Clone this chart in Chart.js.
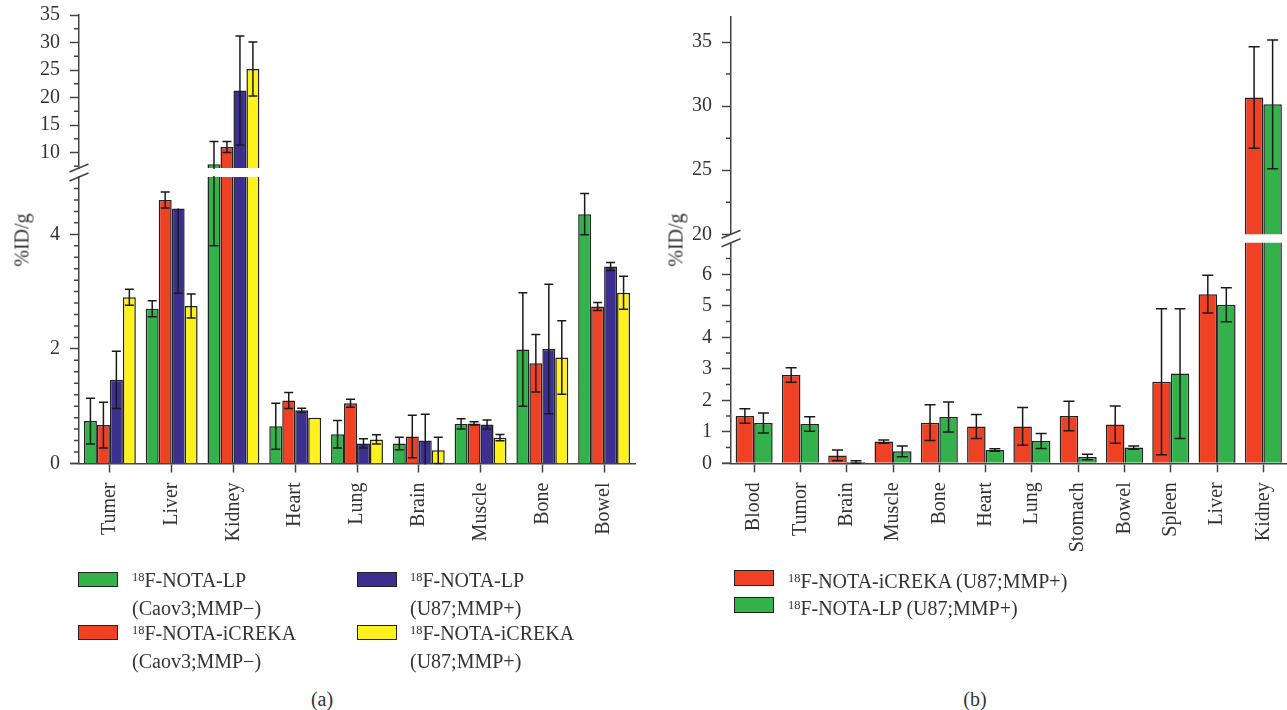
<!DOCTYPE html>
<html>
<head>
<meta charset="utf-8">
<title>Biodistribution %ID/g</title>
<script src="https://cdn.jsdelivr.net/npm/chart.js@4.4.1/dist/chart.umd.min.js"></script>
<style>
    html, body { margin: 0; padding: 0; width: 1287px; height: 710px; overflow: hidden; background: #fff; }
    body { position: relative; font-family: 'Liberation Serif', 'Times New Roman', serif; color: #333; }
    canvas { position: absolute; }
    .txt { position: absolute; font-size: 20px; line-height: 25px; white-space: nowrap; }
    .sup { font-size: 0.62em; position: relative; top: -0.5em; }
    .swatch { position: absolute; width: 40px; height: 15px; box-sizing: border-box; border: 1.5px solid #222; }
    .ytitle { position: absolute; font-size: 20px; transform: translate(-50%, -50%) rotate(-90deg); white-space: nowrap; }
    .caption { position: absolute; font-size: 20px; line-height: 24px; transform: translateX(-50%); }
</style>
</head>
<body>

<canvas id="aUpper" width="660" height="240" style="left:0;top:-40px"></canvas>
<canvas id="aLower" width="660" height="430" style="left:0;top:140px"></canvas>
<canvas id="bUpper" width="660" height="300" style="left:640px;top:-40px"></canvas>
<canvas id="bLower" width="660" height="400" style="left:640px;top:210px"></canvas>

<div class="ytitle" style="left:22px;top:240px">%ID/g</div>
<div class="ytitle" style="left:676px;top:240px">%ID/g</div>

<!-- legend (a) -->
<div class="swatch" style="left:78px;top:572px;background:#33B24B"></div>
<div class="txt" style="left:132px;top:568px"><span class="sup">18</span>F-NOTA-LP<br>(Caov3;MMP&minus;)</div>
<div class="swatch" style="left:78px;top:625px;background:#EF4123"></div>
<div class="txt" style="left:132px;top:621px"><span class="sup">18</span>F-NOTA-iCREKA<br>(Caov3;MMP&minus;)</div>
<div class="swatch" style="left:357px;top:572px;background:#3B2F8F"></div>
<div class="txt" style="left:410px;top:568px"><span class="sup">18</span>F-NOTA-LP<br>(U87;MMP+)</div>
<div class="swatch" style="left:357px;top:625px;background:#FFF21C"></div>
<div class="txt" style="left:410px;top:621px"><span class="sup">18</span>F-NOTA-iCREKA<br>(U87;MMP+)</div>

<!-- legend (b) -->
<div class="swatch" style="left:734px;top:570px;height:16px;background:#EF4123"></div>
<div class="txt" style="left:788px;top:569px"><span class="sup">18</span>F-NOTA-iCREKA (U87;MMP+)</div>
<div class="swatch" style="left:734px;top:597px;height:16px;background:#33B24B"></div>
<div class="txt" style="left:788px;top:596px"><span class="sup">18</span>F-NOTA-LP (U87;MMP+)</div>

<div class="caption" style="left:322px;top:687px">(a)</div>
<div class="caption" style="left:975px;top:687px">(b)</div>

<script>
// ---- Panel (a): four probes, two cell lines ----
const organsA = ['Tumer', 'Liver', 'Kidney', 'Heart', 'Lung', 'Brain', 'Muscle', 'Bone', 'Bowel'];

const lpCaov        = [0.74, 2.70, 7.9, 0.65, 0.51, 0.35, 0.69, 1.99, 4.35];
const lpCaovErr     = [0.40, 0.14, 4.1, 0.40, 0.24, 0.11, 0.09, 0.99, 0.36];
const icrekaCaov    = [0.67, 4.60, 11.0, 1.10, 1.05, 0.47, 0.70, 1.75, 2.74];
const icrekaCaovErr = [0.40, 0.14, 1.0, 0.14, 0.07, 0.37, 0.03, 0.50, 0.07];
const lpU87         = [1.46, 4.45, 21.3, 0.93, 0.35, 0.40, 0.68, 2.00, 3.44];
const lpU87Err      = [0.50, 1.48, 9.9, 0.035, 0.08, 0.46, 0.08, 1.13, 0.07];
const lpU87ErrUp    = [0.50, 0, 9.9, 0.035, 0.08, 0.46, 0.08, 1.13, 0.07];
const icrekaU87     = [2.90, 2.75, 25.2, 0.80, 0.42, 0.23, 0.45, 1.85, 2.98];
const icrekaU87Err  = [0.14, 0.21, 4.9, 0, 0.08, 0.23, 0.055, 0.64, 0.29];

const ticksAUpper = [10, 15, 20, 25, 30, 35];
const minorAUpper = [7.5, 12.5, 17.5, 22.5, 27.5, 32.5];
const ticksALower = [0, 2, 4];
const minorALower = [0.2, 0.4, 0.6, 0.8, 1, 1.2, 1.4, 1.6, 1.8, 2.2, 2.4, 2.6, 2.8, 3, 3.2, 3.4, 3.6, 3.8, 4.2, 4.4, 4.6, 4.8];

// ---- Panel (b): U87 tumour bearing mice ----
const organsB = ['Blood', 'Tumor', 'Brain', 'Muscle', 'Bone', 'Heart', 'Lung', 'Stomach', 'Bowel', 'Spleen', 'Liver', 'Kidney'];

const icrekaB    = [1.50, 2.80, 0.25, 0.69, 1.29, 1.17, 1.17, 1.50, 1.23, 2.59, 5.37, 30.68];
const icrekaBErr = [0.23, 0.23, 0.17, 0.05, 0.57, 0.38, 0.60, 0.47, 0.59, 2.32, 0.60, 3.96];
const lpB        = [1.28, 1.25, 0.04, 0.38, 1.47, 0.42, 0.71, 0.20, 0.50, 2.85, 5.03, 30.14];
const lpBErr     = [0.32, 0.23, 0.04, 0.17, 0.48, 0.04, 0.24, 0.085, 0.05, 2.06, 0.54, 5.02];

const ticksBUpper = [20, 25, 30, 35];
const minorBUpper = [22.5, 27.5, 32.5];
const ticksBLower = [0, 1, 2, 3, 4, 5, 6];
const minorBLower = [0.5, 1.5, 2.5, 3.5, 4.5, 5.5, 6.5];

// Styles
const GREEN = '#33B24B';
const RED = '#EF4123';
const BLUE = '#3B2F8F';
const YELLOW = '#FFF21C';
const AXIS = '#444';
const INK = '#333';
const FONT = { family: "'Liberation Serif', 'Times New Roman', serif", size: 20 };

/**
 * Error bars, minor ticks and the axis break marks
 */
const decorPlugin = {
    id: 'decor',
    afterDatasetsDraw(chart, args, opts) {
        const { ctx, chartArea: area } = chart;
        const y = chart.scales.y;
        ctx.save();
        ctx.beginPath();
        ctx.rect(area.left, area.top - 1, area.right - area.left, area.bottom - area.top + 2);
        ctx.clip();
        ctx.strokeStyle = '#1a1a1a';
        ctx.lineWidth = 1.5;
        chart.data.datasets.forEach((ds, i) => {
            const meta = chart.getDatasetMeta(i);
            meta.data.forEach((bar, j) => {
                const down = ds.err[j];
                const up = ds.errUp ? ds.errUp[j] : ds.err[j];
                if (!down && !up) return;
                const v = ds.data[j];
                const yHi = y.getPixelForValue(v + up);
                const yLo = y.getPixelForValue(v - down);
                const x = bar.x;
                ctx.beginPath();
                ctx.moveTo(x, yHi);
                ctx.lineTo(x, yLo);
                if (up) {
                    ctx.moveTo(x - opts.cap, yHi);
                    ctx.lineTo(x + opts.cap, yHi);
                }
                ctx.moveTo(x - opts.cap, yLo);
                ctx.lineTo(x + opts.cap, yLo);
                ctx.stroke();
            });
        });
        ctx.restore();
    },
    afterDraw(chart, args, opts) {
        const { ctx, chartArea: area } = chart;
        const y = chart.scales.y;
        ctx.save();
        ctx.strokeStyle = AXIS;
        ctx.lineWidth = 1.5;
        ctx.beginPath();
        (opts.minor || []).forEach(v => {
            const py = y.getPixelForValue(v);
            ctx.moveTo(area.left - 5, py);
            ctx.lineTo(area.left, py);
        });
        if (opts.breakGap) {
            // x axis runs a little past the y axis, as in the original
            ctx.moveTo(area.left - 9, area.bottom);
            ctx.lineTo(area.left, area.bottom);
            [area.top, area.top - opts.breakGap].forEach(py => {
                ctx.moveTo(area.left - 9.5, py + 4);
                ctx.lineTo(area.left + 9.5, py - 4);
            });
        }
        ctx.stroke();
        ctx.restore();
    }
};

function yScale(min, max, majors, width) {
    return {
        min: min,
        max: max,
        afterBuildTicks: axis => { axis.ticks = majors.map(v => ({ value: v })); },
        afterFit: axis => { axis.width = width; },
        border: { color: AXIS, width: 1.5 },
        grid: { drawOnChartArea: false, tickLength: 9, tickWidth: 1.5, tickColor: AXIS },
        ticks: { padding: 10, color: INK, font: FONT, callback: v => String(v) }
    };
}

function xScale(height) {
    if (!height) return { display: false, offset: true };
    return {
        offset: true,
        afterFit: axis => { axis.height = height; },
        border: { color: AXIS, width: 1.5 },
        grid: { offset: false, drawOnChartArea: false, tickLength: 9, tickWidth: 1.5, tickColor: AXIS },
        ticks: { autoSkip: false, minRotation: 90, maxRotation: 90, padding: 10, color: INK, font: FONT }
    };
}

function barChart(id, labels, datasets, cfg) {
    return new Chart(document.getElementById(id), {
        type: 'bar',
        data: { labels: labels, datasets: datasets },
        options: {
            responsive: false,
            animation: false,
            layout: { padding: cfg.padding },
            datasets: {
                bar: {
                    categoryPercentage: cfg.catPct,
                    barPercentage: 1,
                    borderWidth: 1.5,
                    borderColor: '#222',
                    borderSkipped: 'start',
                    clip: 0
                }
            },
            plugins: {
                legend: { display: false },
                tooltip: { enabled: false },
                decor: { cap: cfg.cap, minor: cfg.minor, breakGap: cfg.breakGap || 0 }
            },
            scales: {
                x: xScale(cfg.xHeight),
                y: yScale(cfg.min, cfg.max, cfg.majors, cfg.yWidth)
            }
        },
        plugins: [decorPlugin]
    });
}

function setsA() {
    return [
        { data: lpCaov.slice(), err: lpCaovErr, backgroundColor: GREEN },
        { data: icrekaCaov.slice(), err: icrekaCaovErr, backgroundColor: RED },
        { data: lpU87.slice(), err: lpU87Err, errUp: lpU87ErrUp, backgroundColor: BLUE },
        { data: icrekaU87.slice(), err: icrekaU87Err, backgroundColor: YELLOW }
    ];
}

function setsB() {
    return [
        { data: icrekaB.slice(), err: icrekaBErr, backgroundColor: RED },
        { data: lpB.slice(), err: lpBErr, backgroundColor: GREEN }
    ];
}

// Panel (a): broken axis = two charts stacked
barChart('aUpper', organsA, setsA(), {
    padding: { top: 55, right: 25, bottom: 32, left: 0 },
    catPct: 0.84, cap: 4.5, min: 7.2, max: 35, majors: ticksAUpper, minor: minorAUpper, yWidth: 79
});
barChart('aLower', organsA, setsA(), {
    padding: { top: 37, right: 25, bottom: 0, left: 0 },
    catPct: 0.84, cap: 4.5, min: 0, max: 5, majors: ticksALower, minor: minorALower, yWidth: 79,
    xHeight: 106.5, breakGap: 9
});

// Panel (b)
barChart('bUpper', organsB, setsB(), {
    padding: { top: 56.4, right: 13.5, bottom: 25.7, left: 0 },
    catPct: 0.8, cap: 5.5, min: 20, max: 37, majors: ticksBUpper, minor: minorBUpper, yWidth: 91
});
barChart('bLower', organsB, setsB(), {
    padding: { top: 32.8, right: 13.5, bottom: 0, left: 0 },
    catPct: 0.8, cap: 5.5, min: 0, max: 7, majors: ticksBLower, minor: minorBLower, yWidth: 91,
    xHeight: 146.7, breakGap: 8.5
});
</script>
</body>
</html>
